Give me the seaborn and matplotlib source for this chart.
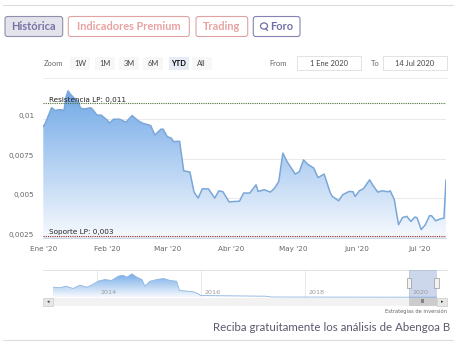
import matplotlib
matplotlib.use("Agg")
import matplotlib.pyplot as plt
import matplotlib.dates as mdates
from matplotlib.colors import LinearSegmentedColormap
from matplotlib.patches import FancyBboxPatch, Rectangle, Ellipse
from matplotlib.ticker import FuncFormatter
import seaborn as sns
import numpy as np
import pandas as pd

# Main series (YTD 2020)
dates = ["2020-01-01", "2020-01-02", "2020-01-05", "2020-01-07", "2020-01-08", "2020-01-10",
         "2020-01-11", "2020-01-12", "2020-01-13", "2020-01-14", "2020-01-16", "2020-01-18",
         "2020-01-19", "2020-01-21", "2020-01-24", "2020-01-25", "2020-01-27", "2020-01-29",
         "2020-02-01", "2020-02-02", "2020-02-04", "2020-02-07", "2020-02-10", "2020-02-13",
         "2020-02-16", "2020-02-18", "2020-02-22", "2020-02-24", "2020-02-27", "2020-02-28",
         "2020-03-01", "2020-03-03", "2020-03-04", "2020-03-07", "2020-03-09", "2020-03-12",
         "2020-03-14", "2020-03-16", "2020-03-18", "2020-03-21", "2020-03-24", "2020-03-26",
         "2020-03-28", "2020-03-31", "2020-04-02", "2020-04-05", "2020-04-07", "2020-04-10",
         "2020-04-13", "2020-04-14", "2020-04-17", "2020-04-20", "2020-04-22", "2020-04-24",
         "2020-04-26", "2020-04-28", "2020-05-02", "2020-05-04", "2020-05-06", "2020-05-08",
         "2020-05-11", "2020-05-13", "2020-05-16", "2020-05-19", "2020-05-20", "2020-05-23",
         "2020-05-25", "2020-05-28", "2020-05-30", "2020-05-31", "2020-06-02", "2020-06-04",
         "2020-06-07", "2020-06-09", "2020-06-11", "2020-06-13", "2020-06-16", "2020-06-17",
         "2020-06-19", "2020-06-21", "2020-06-23", "2020-06-25", "2020-06-27", "2020-06-29",
         "2020-06-30", "2020-07-02", "2020-07-04", "2020-07-06", "2020-07-07", "2020-07-09",
         "2020-07-11", "2020-07-13", "2020-07-14"]
prices = [0.00953, 0.00975, 0.01073, 0.01053, 0.0106, 0.0106,
          0.01053, 0.0114, 0.0118, 0.0116, 0.01133, 0.01112,
          0.0107, 0.01065, 0.01073, 0.0106, 0.01026, 0.01026,
          0.00994, 0.00975, 0.0100, 0.0100, 0.00981, 0.01023,
          0.0099, 0.00975, 0.0096, 0.0090, 0.00937, 0.00937,
          0.0089, 0.0088, 0.00858, 0.0086, 0.00673, 0.00665,
          0.00538, 0.0050, 0.00559, 0.00558, 0.0050, 0.00546,
          0.0054, 0.00475, 0.00478, 0.0048, 0.00532, 0.00532,
          0.00584, 0.00542, 0.00553, 0.00538, 0.00563, 0.00605,
          0.00785, 0.00732, 0.00652, 0.00668, 0.00742, 0.00715,
          0.0069, 0.0063, 0.00652, 0.00532, 0.0051, 0.00483,
          0.00521, 0.00542, 0.0054, 0.0051, 0.00546, 0.00559,
          0.00616, 0.00573, 0.00538, 0.00546, 0.0054, 0.00546,
          0.00489, 0.00331, 0.00377, 0.00384, 0.00352, 0.0038,
          0.00375, 0.0030, 0.00331, 0.00388, 0.00388, 0.00356,
          0.00367, 0.00373, 0.00616]

resistance = 0.011
support = 0.003
y_ticks = [0.0025, 0.005, 0.0075, 0.01]
month_ticks = ["2020-01-01", "2020-02-01", "2020-03-01", "2020-04-01",
               "2020-05-01", "2020-06-01", "2020-07-01"]
month_labels = ["Ene '20", "Feb '20", "Mar '20", "Abr '20", "May '20", "Jun '20", "Jul '20"]

# Navigator series (full history)
nav_dates = ["2013-03-01", "2013-04-15", "2013-06-01", "2013-07-20", "2013-09-05", "2013-10-25",
             "2013-12-05", "2014-01-10", "2014-03-01", "2014-04-15", "2014-06-01", "2014-07-05",
             "2014-08-01", "2014-09-05", "2014-10-10", "2014-11-15", "2014-12-05", "2015-01-10",
             "2015-03-01", "2015-04-15", "2015-06-01", "2015-07-15", "2015-08-05", "2015-09-28",
             "2015-11-10", "2015-12-15", "2015-12-28", "2017-04-01", "2017-05-10", "2018-06-01",
             "2019-06-01", "2020-07-14"]
nav_prices = [0.206, 0.194, 0.226, 0.18, 0.246, 0.206,
              0.26, 0.326, 0.36, 0.34, 0.426, 0.446,
              0.406, 0.474, 0.406, 0.36, 0.226, 0.326,
              0.36, 0.38, 0.34, 0.326, 0.14, 0.126,
              0.114, 0.074, 0.04, 0.026, 0.01, 0.008,
              0.007, 0.006]
nav_years = ["2014", "2016", "2018", "2020"]

tabs = ["Histórica", "Indicadores Premium", "Trading", "Foro"]
range_buttons = ["1W", "1M", "3M", "6M", "YTD", "All"]
date_from = "1 Ene 2020"
date_to = "14 Jul 2020"

sns.set_style("white")
plt.rcParams['font.family'] = ['DejaVu Sans']

W, H = 462, 355
fig = plt.figure(figsize=(W / 100, H / 100), dpi=100)
fig.patch.set_facecolor('white')


def frac(x0, y0, x1, y1):
    # pixel box (top-left origin) -> figure fraction
    return [x0 / W, 1 - y1 / H, (x1 - x0) / W, (y1 - y0) / H]


grad_cmap = LinearSegmentedColormap.from_list('g', ['#f6f9fe', '#6ea7e6'])
line_col = '#7ba7d8'


def gradient_area(ax, x, y, ymin, ymax):
    poly = ax.fill_between(x, y, ymin, color='none', lw=0)
    xn = mdates.date2num(x)
    grad = np.linspace(0, 1, 256).reshape(-1, 1)
    im = ax.imshow(grad, extent=[xn.min(), xn.max(), ymin, ymax], aspect='auto',
                   origin='lower', cmap=grad_cmap, zorder=1)
    im.set_clip_path(poly.get_paths()[0], transform=ax.transData)


# ---- main chart ----
df = pd.DataFrame({'date': pd.to_datetime(dates), 'price': prices})
ymin, ymax = 0.0025, 0.01198
ax = fig.add_axes(frac(43.3, 88, 446, 237.5))
gradient_area(ax, df['date'], df['price'], ymin, ymax)
sns.lineplot(data=df, x='date', y='price', color=line_col, lw=1.1, ax=ax, zorder=3)
ax.set_xlim(pd.Timestamp(dates[0]), pd.Timestamp(dates[-1]))
ax.set_ylim(ymin, ymax)
ax.set_xlabel('')
ax.set_ylabel('')

ax.set_yticks(y_ticks)
ax.yaxis.set_major_formatter(FuncFormatter(lambda v, p: f"{v:g}".replace('.', ',')))
ax.set_xticks(pd.to_datetime(month_ticks))
ax.set_xticklabels(month_labels)
ax.tick_params(axis='y', length=0, pad=6.5, labelsize=5.2, colors='#666666')
ax.tick_params(axis='x', length=3.8, width=0.6, color='#ccd6eb', pad=2.2,
               labelsize=5.2, labelcolor='#666666')
for lbl in ax.get_yticklabels():
    lbl.set_va('bottom')
ax.grid(axis='y', color='#e6e6e6', lw=0.6)
ax.grid(axis='x', visible=False)
for s in ['top', 'right', 'left']:
    ax.spines[s].set_visible(False)
ax.spines['bottom'].set_color('#ccd6eb')
ax.spines['bottom'].set_linewidth(0.7)

ax.axhline(resistance, color='#4f6e37', ls=(0, (1, 1)), lw=0.8, zorder=4)
ax.axhline(ymin + 0.00011, color='#8e2f2f', ls=(0, (1, 1)), lw=0.8, zorder=4)
fmt = lambda v: f"{v:g}".replace('.', ',')
ax.text(pd.Timestamp("2020-01-04"), resistance + 0.00004, f"Resistencia LP: {fmt(resistance)}",
        fontsize=5.2, color='#222222', va='bottom', zorder=5)
ax.text(pd.Timestamp("2020-01-04"), ymin + 0.00016, f"Soporte LP: {fmt(support)}",
        fontsize=5.2, color='#222222', va='bottom', zorder=5)

# ---- navigator ----
ndf = pd.DataFrame({'date': pd.to_datetime(nav_dates), 'price': nav_prices})
nax = fig.add_axes(frac(53, 270, 437, 297.5))
gradient_area(nax, ndf['date'], ndf['price'], 0, 0.5)
sns.lineplot(data=ndf, x='date', y='price', color='#8fb6e0', lw=0.6, ax=nax, zorder=3)
nax.set_xlim(pd.Timestamp(nav_dates[0]), pd.Timestamp(nav_dates[-1]))
nax.set_ylim(0, 0.55)
nax.axis('off')
for yr in nav_years:
    t = pd.Timestamp(f"{yr}-01-01")
    nax.axvline(t, color='#e6e6e6', lw=0.6, zorder=0)
    nax.text(t + pd.Timedelta(days=25), 0.11, yr, fontsize=4.6, color='#999999',
             va='center', ha='left', zorder=6)
nax.axvspan(pd.Timestamp(dates[0]), pd.Timestamp(dates[-1]), color='#6685c2',
            alpha=0.32, lw=0, zorder=5)

# ---- page overlay (pixel coords) ----
ov = fig.add_axes([0, 0, 1, 1], zorder=-1)
ov.set_xlim(0, W)
ov.set_ylim(H, 0)
ov.axis('off')
ov2 = fig.add_axes([0, 0, 1, 1], zorder=10)
ov2.set_xlim(0, W)
ov2.set_ylim(H, 0)
ov2.axis('off')
ov2.patch.set_alpha(0)

ov.plot([3, 453], [5, 5], color='#dddddd', lw=0.8)
ov.plot([43, 447], [78, 78], color='#eeeeee', lw=0.8)
ov.plot([43, 447], [270, 270], color='#e2e2e2', lw=0.7)
ov.plot([3, 453], [340, 340], color='#dddddd', lw=0.8)

tab_boxes = [(5, 62.7), (68.3, 189.3), (196, 247.7), (253.3, 300)]
tab_fc = ['#e3e3ec', 'white', 'white', 'white']
tab_ec = ['#8f8fae', '#e0a3a3', '#e0a3a3', '#8583b3']
tab_tc = ['#7a72a6', '#e8a2a2', '#e8a2a2', '#716fa6']
for name, (x0, x1), fc, ec, tc in zip(tabs, tab_boxes, tab_fc, tab_ec, tab_tc):
    ov.add_patch(FancyBboxPatch((x0, 16.5), x1 - x0, 20, boxstyle="round,pad=0,rounding_size=2.5",
                                fc=fc, ec=ec, lw=0.8))
    cx = (x0 + x1) / 2 + (5 if name == "Foro" else 0)
    ov.text(cx, 26.8, name, fontsize=7.9, color=tc, ha='center', va='center',
            family='Lato', fontweight='bold')
ov.add_patch(Ellipse((264, 26), 7, 6.2, fc='none', ec='#716fa6', lw=0.9))
ov.plot([265.5, 267.5], [28.5, 30.5], color='#716fa6', lw=0.9)

ov.text(44, 63, "Zoom", fontsize=5.4, color='#666666', va='center', family='Lato')
btn_x = [80, 105, 129, 153, 179, 201.7]
for b, cx in zip(range_buttons, btn_x):
    sel = b == "YTD"
    ov.add_patch(Rectangle((cx - 10, 56.5), 20, 13, fc='#e6ebf5' if sel else '#f7f7f7', ec='none'))
    ov.text(cx, 63, b, fontsize=5.4, ha='center', va='center', family='Lato',
            color='#000000' if sel else '#444444', fontweight='bold' if sel else 'normal')
ov.text(278, 63, "From", fontsize=5.4, color='#666666', ha='center', va='center', family='Lato')
ov.text(375, 63, "To", fontsize=5.4, color='#666666', ha='center', va='center', family='Lato')
ov.add_patch(Rectangle((297, 56), 64, 14, fc='white', ec='#dddddd', lw=0.6))
ov.add_patch(Rectangle((383.3, 56), 63.4, 14, fc='white', ec='#dddddd', lw=0.6))
ov.text(329, 63, date_from, fontsize=5.4, color='#444444', ha='center', va='center', family='Lato')
ov.text(415, 63, date_to, fontsize=5.4, color='#444444', ha='center', va='center', family='Lato')

# scrollbar
ov2.add_patch(Rectangle((53, 297.5), 384, 8.5, fc='#f2f2f2', ec='none'))
ov2.add_patch(Rectangle((43, 297.5), 10, 8.5, fc='#e6e6e6', ec='#cccccc', lw=0.5))
ov2.add_patch(Rectangle((437, 297.5), 10, 8.5, fc='#e6e6e6', ec='#cccccc', lw=0.5))
ov2.text(48, 301.7, "◂", fontsize=3.5, color='#333333', ha='center', va='center')
ov2.text(442, 301.7, "▸", fontsize=3.5, color='#333333', ha='center', va='center')
ov2.add_patch(Rectangle((408.5, 297.5), 28.5, 8.5, fc='#cccccc', ec='none'))
ov2.text(422.5, 301.7, "III", fontsize=3.6, color='#333333', ha='center', va='center')
for hx in [408.8, 436.6]:
    ov2.add_patch(Rectangle((hx - 2.2, 277.5), 4.4, 10.5, fc='#f2f2f2', ec='#999999', lw=0.5))

ov2.text(447, 311.5, "Estrategias de inversión", fontsize=3.7, color='#666666',
         ha='right', va='center')
ov2.text(213, 327.5, "Reciba gratuitamente los análisis de Abengoa B", fontsize=8.3,
         color='#5a5a6e', ha='left', va='center', family='Lato')

fig.savefig("out.png", dpi=100, facecolor='white')
